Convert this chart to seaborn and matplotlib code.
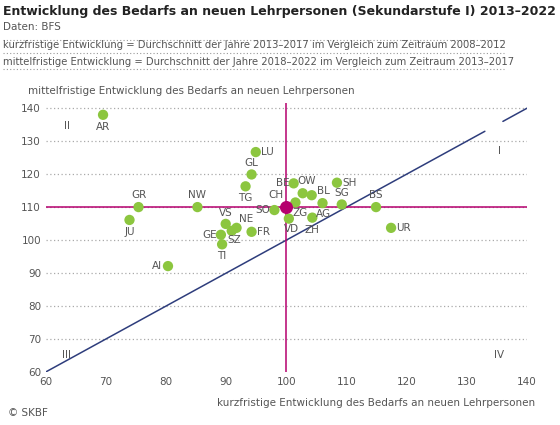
import matplotlib
matplotlib.use('Agg')
import matplotlib.pyplot as plt
import seaborn as sns
import pandas as pd

cantons = ['AR', 'LU', 'GL', 'TG', 'GR', 'NW', 'JU', 'VS', 'NE', 'GE', 'TI', 'SZ', 'FR', 'AI',
           'SO', 'BE', 'OW', 'BL', 'AG', 'ZG', 'VD', 'ZH', 'SH', 'SG', 'BS', 'UR']
short_term = [69.5, 94.9, 94.2, 93.2, 75.4, 85.2, 73.9, 89.9, 91.7, 89.1, 89.3, 90.9, 94.2, 80.3,
              98.0, 101.2, 102.7, 104.2, 106.0, 101.5, 100.4, 104.3, 108.4, 109.2, 114.9, 117.4]
mid_term = [138.0, 126.7, 119.9, 116.3, 110.0, 110.0, 106.1, 104.9, 103.7, 101.6, 98.7, 102.8, 102.5, 92.1,
            109.1, 117.2, 114.2, 113.6, 111.2, 111.4, 106.5, 106.8, 117.4, 110.8, 110.0, 103.7]
ch_point = (100, 110)

# label placement: (dx, dy, ha, va) in points
place = {
    'AR': (0, -5, 'center', 'top'), 'LU': (4, 0, 'left', 'center'), 'GL': (0, 5, 'center', 'bottom'),
    'TG': (0, -5, 'center', 'top'), 'GR': (0, 5, 'center', 'bottom'), 'NW': (0, 5, 'center', 'bottom'),
    'JU': (0, -5, 'center', 'top'), 'VS': (0, 4, 'center', 'bottom'), 'NE': (2, 3, 'left', 'bottom'),
    'GE': (-3, 0, 'right', 'center'), 'TI': (0, -5, 'center', 'top'), 'SZ': (2, -3, 'center', 'top'),
    'FR': (4, 0, 'left', 'center'), 'AI': (-4, 0, 'right', 'center'), 'SO': (-3, 0, 'right', 'center'),
    'BE': (-3, 0, 'right', 'center'), 'OW': (3, 5, 'center', 'bottom'), 'BL': (4, 3, 'left', 'center'),
    'AG': (1, -4, 'center', 'top'), 'ZG': (3, -4, 'center', 'top'), 'VD': (2, -4, 'center', 'top'),
    'ZH': (0, -5, 'center', 'top'), 'SH': (4, 0, 'left', 'center'), 'SG': (0, 5, 'center', 'bottom'),
    'BS': (0, 5, 'center', 'bottom'), 'UR': (4, 0, 'left', 'center'),
}

df = pd.DataFrame({'canton': cantons, 'x': short_term, 'y': mid_term})

sns.set_style('white')
plt.rcParams['font.family'] = ['DejaVu Sans']
grey = '#555555'
green = '#8cc63f'
magenta = '#b5006e'
blue = '#2e3d7c'

fig = plt.figure(figsize=(5.6, 4.25), dpi=100)
ax = fig.add_axes([0.082, 0.125, 0.859, 0.632])

for v in range(70, 141, 10):
    ax.axhline(v, color='#aaaaaa', lw=0.9, ls=(0, (1, 2)), zorder=0)

# diagonal y = x with gap for label I
ax.plot([60, 133], [60, 133], color=blue, lw=1.1, zorder=1)
ax.plot([136, 140], [136, 140], color=blue, lw=1.1, zorder=1)
ax.axhline(110, color=magenta, lw=1.1, zorder=1)
ax.axvline(100, color=magenta, lw=1.1, zorder=1)

sns.scatterplot(data=df, x='x', y='y', ax=ax, color=green, s=55, edgecolor='none', zorder=3)
ax.scatter([ch_point[0]], [ch_point[1]], color=magenta, s=70, zorder=4)
ax.annotate('CH', ch_point, xytext=(-2, 5), textcoords='offset points', ha='right', va='bottom',
            fontsize=7.5, color=grey)

for c, x, y in zip(cantons, short_term, mid_term):
    dx, dy, ha, va = place[c]
    ax.annotate(c, (x, y), xytext=(dx, dy), textcoords='offset points', ha=ha, va=va,
                fontsize=7.5, color=grey)

for txt, x, y in [('I', 135.4, 127), ('II', 63.5, 134.7), ('III', 63.5, 65), ('IV', 135.4, 65)]:
    ax.text(x, y, txt, fontsize=7.5, color=grey, ha='center', va='center')

ax.set_xlim(60, 140)
ax.set_ylim(60, 141.5)
ax.set_xticks(range(60, 141, 10))
ax.set_yticks(range(60, 141, 10))
ax.tick_params(labelsize=7.5, colors=grey, length=0)
ax.set_xlabel('')
ax.set_ylabel('')
for s in ax.spines.values():
    s.set_visible(False)

fig.text(0.005, 0.965, 'Entwicklung des Bedarfs an neuen Lehrpersonen (Sekundarstufe I) 2013–2022',
         fontsize=9.0, fontweight='bold', color='#222222')
fig.text(0.005, 0.93, 'Daten: BFS', fontsize=7.5, color=grey)
fig.text(0.005, 0.888, 'kurzfristige Entwicklung = Durchschnitt der Jahre 2013–2017 im Vergleich zum Zeitraum 2008–2012',
         fontsize=7.2, color=grey)
fig.text(0.005, 0.848, 'mittelfristige Entwicklung = Durchschnitt der Jahre 2018–2022 im Vergleich zum Zeitraum 2013–2017',
         fontsize=7.2, color=grey)
for yy in (0.905, 0.875, 0.838):
    fig.add_artist(plt.Line2D([0.005, 0.9], [yy, yy], color='#999999', lw=0.8, ls=(0, (1, 2))))
fig.text(0.05, 0.78, 'mittelfristige Entwicklung des Bedarfs an neuen Lehrpersonen', fontsize=7.5, color=grey)
fig.text(0.955, 0.045, 'kurzfristige Entwicklung des Bedarfs an neuen Lehrpersonen', fontsize=7.5,
         color=grey, ha='right')
fig.text(0.015, 0.02, '© SKBF', fontsize=7.5, color=grey)

fig.savefig('out.png', dpi=100)
